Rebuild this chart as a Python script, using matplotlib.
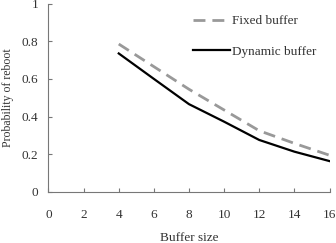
import matplotlib
matplotlib.use("Agg")
import matplotlib.pyplot as plt

x = [4, 6, 8, 10, 12, 14, 16]
fixed = [0.785, 0.665, 0.545, 0.435, 0.325, 0.258, 0.195]
dynamic = [0.735, 0.600, 0.466, 0.373, 0.276, 0.214, 0.164]
xticks = [0, 2, 4, 6, 8, 10, 12, 14, 16]
yticks = [0, 0.2, 0.4, 0.6, 0.8, 1]
ytick_labels = ["0", "0.2", "0.4", "0.6", "0.8", "1"]

plt.rcParams['font.family'] = ['Liberation Serif', 'DejaVu Serif']
W, H = 336, 243
fig = plt.figure(figsize=(W / 100, H / 100), dpi=100)
ax = fig.add_axes([48.5 / W, 1 - 192 / H, 281 / W, 188.5 / H])
ax.plot(x, fixed, color='#999999', lw=2.0, dashes=(4.3, 2.5), label='Fixed buffer')
ax.plot(x, dynamic, color='black', lw=1.6, label='Dynamic buffer')
ax.set_xlim(0, 16)
ax.set_ylim(0, 1)
ax.set_xticks(xticks)
ax.set_yticks(yticks)
ax.set_yticklabels(ytick_labels)
for s in ['top', 'right']:
    ax.spines[s].set_visible(False)
for s in ['left', 'bottom']:
    ax.spines[s].set_color('#777777')
    ax.spines[s].set_linewidth(0.8)
ax.tick_params(direction='in', length=3, color='#777777', labelsize=9.5, labelcolor='#333333')
ax.tick_params(axis='x', pad=12)
ax.tick_params(axis='y', pad=7.5)
ax.set_xlabel('Buffer size', fontsize=9.5, color='#333333')
ax.xaxis.set_label_coords(0.5, (192 - 232) / 188.5)
ax.set_ylabel('Probability of reboot', fontsize=8.5, color='#333333')
ax.yaxis.set_label_coords((14 - 48.5) / 281, 0.5)
ax.legend(loc='upper left', bbox_to_anchor=(193 / W, 1 - 15 / H), bbox_transform=fig.transFigure,
          frameon=False, fontsize=9.5, borderpad=0, borderaxespad=0,
          handlelength=2.8, handletextpad=0.15, labelspacing=1.4, labelcolor='#333333')
fig.savefig('out.png', dpi=100)
